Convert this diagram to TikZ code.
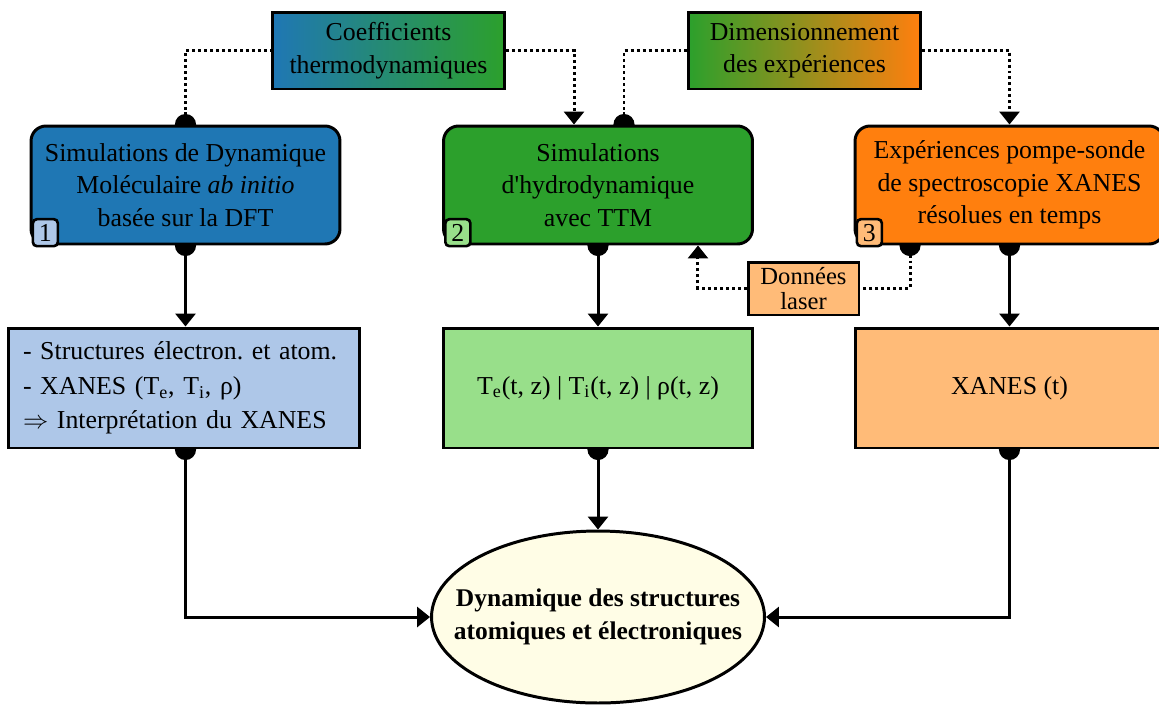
\documentclass[tikz,border=0pt]{standalone}
\usepackage{fontspec}
\setmainfont{Liberation Serif}
\usetikzlibrary{arrows.meta,shapes.geometric}
\pgfdeclarelayer{bg}
\pgfsetlayers{bg,main}
\definecolor{tblue}{HTML}{1F77B4}
\definecolor{tgreen}{HTML}{2CA02C}
\definecolor{torange}{HTML}{FF7F0E}
\definecolor{lblue}{HTML}{AEC7E8}
\definecolor{lgreen}{HTML}{98DF8A}
\definecolor{lorange}{HTML}{FFBB78}
\definecolor{lyellow}{HTML}{FFFDE6}
\tikzset{
  simbox/.style={draw, line width=1.7pt, rounded corners=0.3cm, minimum width=6.18cm, minimum height=2.36cm, align=center, inner sep=0pt},
  resbox/.style={draw, line width=1.7pt, minimum width=6.18cm, minimum height=2.4cm, align=center, inner sep=0pt},
  gradbox/.style={draw, line width=1.7pt, minimum width=4.64cm, minimum height=1.54cm, align=center, inner sep=0pt},
  badge/.style={draw, line width=1.5pt, rounded corners=0.08cm, minimum width=0.5cm, minimum height=0.54cm, inner sep=0pt, anchor=south west},
  arr/.style={line width=1.7pt, -{Triangle[length=7.4pt,width=11.4pt]}},
  dotarr/.style={line width=1.7pt, {Circle[length=12pt]}-{Triangle[length=7.4pt,width=11.4pt]}, shorten <=-6pt},
  dotonly/.style={line width=1.7pt, {Circle[length=12pt]}-, shorten <=-6pt},
  dots/.style={dash pattern=on 1.7pt off 1.7pt},
}

\begin{document}
\begin{tikzpicture}[x=0.02cm, y=-0.02cm, font=\fontsize{14.7}{18.5}\selectfont]
\clip (0,0) rectangle (1159,704);

\node[gradbox, left color=tblue, right color=tgreen] (coef) at (388.5,50.5) {Coefficients\\thermodynamiques};
\node[gradbox, left color=tgreen, right color=torange] (dim) at (804.5,50.5) {Dimensionnement\\des expériences};

\node[simbox, fill=tblue] (sim1) at (185.5,185) {Simulations de Dynamique\\Moléculaire \textit{ab initio}\\basée sur la DFT};
\node[simbox, fill=tgreen] (sim2) at (598,185) {Simulations\\d\textquotesingle hydrodynamique\\avec TTM};
\node[simbox, fill=torange] (sim3) at (1009.5,185) {Expériences pompe-sonde\\de spectroscopie XANES\\résolues en temps};
\node[badge, fill=lblue] (n1) at ([shift={(0.04cm,-0.04cm)}]sim1.south west) {1};
\node[badge, fill=lgreen] (n2) at ([shift={(0.04cm,-0.04cm)}]sim2.south west) {2};
\node[badge, fill=lorange] (n3) at ([shift={(0.04cm,-0.04cm)}]sim3.south west) {3};

\node[draw, line width=1.7pt, fill=lorange, minimum width=2.22cm, minimum height=1.06cm, inner sep=0pt, align=center, font=\fontsize{14}{14}\selectfont] (laser) at (803.5,288.5) {Données\\laser};

\node[resbox, fill=lblue, minimum width=7.04cm, text width=6.44cm, align=left, font=\fontsize{14.7}{19.5}\selectfont] (res1) at (184,388) {- Structures électron.\ et atom.\\- XANES (T\textsubscript{e}, T\textsubscript{i}, ρ)\\$\Rightarrow$ Interprétation du XANES};
\node[resbox, fill=lgreen] (res2) at (598,388) {T\textsubscript{e}(t, z) | T\textsubscript{i}(t, z) | ρ(t, z)};
\node[resbox, fill=lorange] (res3) at (1009.5,388) {XANES (t)};

\node[ellipse, draw, line width=1.7pt, fill=lyellow, minimum width=6.66cm, minimum height=3.44cm, inner xsep=-1cm, inner ysep=0pt, align=center, font=\fontsize{14.5}{18.8}\selectfont\bfseries] (dyn) at (598,617) {Dynamique des structures\\atomiques et électroniques};

\begin{pgfonlayer}{bg}
\draw[dots, dotonly] (sim1.north) |- (coef.west);
\draw[dots, arr] (coef.east) -| ([xshift=-0.48cm]sim2.north);
\draw[dots, dotonly] ([xshift=0.52cm]sim2.north) |- (dim.west);
\draw[dots, arr] (dim.east) -| (sim3.north);
\draw[dots, dotonly] ([xshift=-1.99cm]sim3.south) |- (laser.east);
\draw[dots, arr] (laser.west) -| ([xshift=2cm]sim2.south);
\draw[dotarr] (sim1.south) -- (sim1.south |- res1.north);
\draw[dotarr] (sim2.south) -- (res2.north);
\draw[dotarr] (sim3.south) -- (res3.north);
\draw[dotarr] (sim1.south |- res1.south) |- (dyn.west);
\draw[dotarr] (res2.south) -- (dyn.north);
\draw[dotarr] (res3.south) |- (dyn.east);
\end{pgfonlayer}
\end{tikzpicture}
\end{document}
